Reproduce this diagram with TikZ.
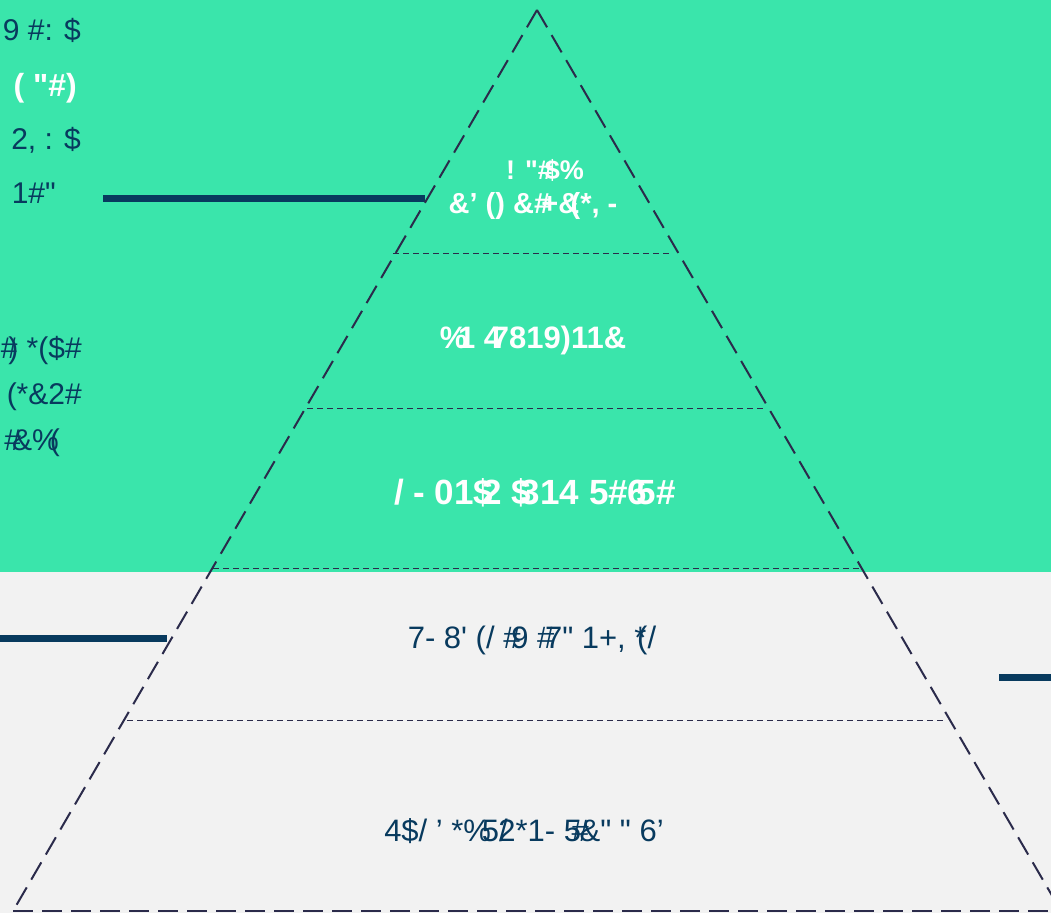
\documentclass[tikz,border=0pt]{standalone}
\usepackage{fontspec}
\newfontfamily\lib{Liberation Sans}
\definecolor{mint}{HTML}{3AE5AB}
\definecolor{paper}{HTML}{F2F2F2}
\definecolor{navy}{HTML}{083A5E}
\definecolor{edge}{HTML}{2B2B4B}
\newcommand{\ov}{\kern-0.3em}
\begin{document}
\begin{tikzpicture}[x=1pt,y=-1pt,
  edgeline/.style={draw=edge,line width=2pt,dash pattern=on 20pt off 9pt},
  divline/.style={draw=edge,line width=1pt,dash pattern=on 6pt off 4pt},
  bar/.style={fill=navy},
  lbl/.style={inner sep=0pt,font=\lib\fontsize{31}{33}\selectfont,text=navy},
  wlbl/.style={inner sep=0pt,text=white},
  side/.style={inner sep=0pt,anchor=east,font=\lib\fontsize{30}{32}\selectfont,text=navy}]
\useasboundingbox (0,0) rectangle (1051,913);
\clip (0,0) rectangle (1051,913);
\fill[mint] (0,0) rectangle (1051,572);
\fill[paper] (0,572) rectangle (1051,913);
% bars
\fill[bar] (103,194.5) rectangle (425,201.5);
\fill[bar] (0,634.5) rectangle (167,641.5);
\fill[bar] (999,673.5) rectangle (1051,680.5);
% pyramid
\coordinate (apex) at (537,10);
\coordinate (bl) at (13,911);
\coordinate (br) at (1061,911);
\coordinate (d1l) at (393,253); \coordinate (d1r) at (670,253);
\coordinate (d2l) at (307,408); \coordinate (d2r) at (766,408);
\coordinate (d3l) at (213,568); \coordinate (d3r) at (862,568);
\coordinate (d4l) at (127,720); \coordinate (d4r) at (946,720);
\draw[divline] (d1l) -- (d1r);
\draw[divline] (d2l) -- (d2r);
\draw[divline] (d3l) -- (d3r);
\draw[divline] (d4l) -- (d4r);
\draw[edgeline] (apex) -- (bl);
\draw[edgeline] (apex) -- (br);
\draw[edgeline] (bl) -- (br);
% pyramid labels
\node[wlbl,font=\lib\fontsize{27}{29}\selectfont\bfseries] (t1) at (545,170) {! "\#\ov\$\%};
\node[wlbl,font=\lib\fontsize{29}{31}\selectfont\bfseries] (t2) at (533,206) {\&’ () \&\#\ov+\&\ov(*, -};
\node[wlbl,font=\lib\fontsize{31}{33}\selectfont\bfseries] (t3) at (533,340) {\%\ov1 4\ov7819)11\&};
\node[wlbl,font=\lib\fontsize{35}{37}\selectfont\bfseries] (t4) at (535,493) {/ - 01\$\ov2 \$\ov314 5\#6\ov5\#};
\node[lbl] (t5) at (532,640) {7- 8' (/ \#\ov9 \#\ov7" 1+, *\ov(/};
\node[lbl] (t6) at (524,831) {4\$/ ’ *\%\ov5/\ov2*1- 5\ov\#\ov\&" " 6’};
% left texts
\node[side] (l1) at (81,30) {9 \#: \$};
\node[side,text=white,font=\lib\fontsize{32}{34}\selectfont\bfseries] (l2) at (77,88) {( "\#)};
\node[side] (l3) at (81,140) {2, : \$};
\node[side] (l4) at (56,193) {1\#"};
\node[side] (l5) at (82,350) {\#\ov) *(\$\#};
\node[side] (l6) at (82,397) {(*\&2\#};
\node[side] (l7) at (60,443) {\#\ov\&\%\ov(};
\end{tikzpicture}
\end{document}
